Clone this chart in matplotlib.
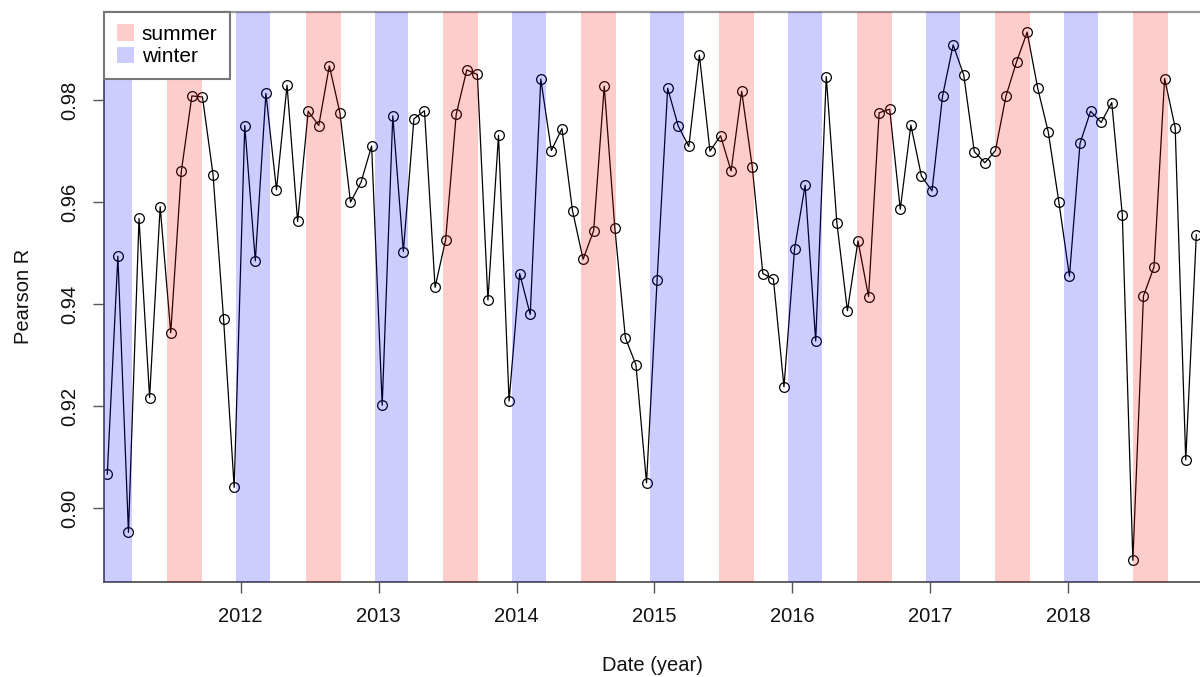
import numpy as np
import pandas as pd
import matplotlib
matplotlib.use("Agg")
import matplotlib.pyplot as plt
import matplotlib.dates as mdates
from matplotlib.patches import Patch

plt.rcParams["font.family"] = ["Liberation Sans", "DejaVu Sans"]

# Pearson R, one value every 28 days starting 2011-01-13
first_date = "2011-01-13"
step = "28D"
pearson_r = [
    0.9067, 0.9494, 0.8953, 0.9568, 0.9217, 0.9591, 0.9344, 0.9660, 0.9808, 0.9806,
    0.9654, 0.9370, 0.9041, 0.9750, 0.9485, 0.9813, 0.9624, 0.9829, 0.9562, 0.9778,
    0.9750, 0.9867, 0.9775, 0.9600, 0.9639, 0.9710, 0.9202, 0.9769, 0.9503, 0.9763,
    0.9779, 0.9433, 0.9526, 0.9772, 0.9859, 0.9850, 0.9408, 0.9731, 0.9210, 0.9460,
    0.9380, 0.9841, 0.9701, 0.9744, 0.9583, 0.9488, 0.9544, 0.9827, 0.9550, 0.9334,
    0.9281, 0.9050, 0.9447, 0.9823, 0.9749, 0.9709, 0.9888, 0.9700, 0.9730, 0.9661,
    0.9817, 0.9669, 0.9460, 0.9449, 0.9238, 0.9508, 0.9633, 0.9328, 0.9846, 0.9560,
    0.9387, 0.9524, 0.9415, 0.9775, 0.9782, 0.9586, 0.9751, 0.9651, 0.9622, 0.9808,
    0.9908, 0.9849, 0.9699, 0.9677, 0.9701, 0.9808, 0.9875, 0.9933, 0.9823, 0.9737,
    0.9600, 0.9455, 0.9715, 0.9778, 0.9756, 0.9795, 0.9575, 0.8898, 0.9416, 0.9473,
    0.9842, 0.9746, 0.9095, 0.9536,
]

# seasons (solstice -> equinox)
summer_start = ["2011-06-21", "2012-06-21", "2013-06-21", "2014-06-21",
                "2015-06-21", "2016-06-21", "2017-06-21", "2018-06-21"]
summer_end = ["2011-09-22", "2012-09-22", "2013-09-22", "2014-09-22",
              "2015-09-22", "2016-09-22", "2017-09-22", "2018-09-22"]
winter_start = ["2010-12-21", "2011-12-21", "2012-12-21", "2013-12-21",
                "2014-12-21", "2015-12-21", "2016-12-21", "2017-12-21"]
winter_end = ["2011-03-20", "2012-03-20", "2013-03-20", "2014-03-20",
              "2015-03-20", "2016-03-20", "2017-03-20", "2018-03-20"]

year_ticks = [2012, 2013, 2014, 2015, 2016, 2017, 2018]
y_ticks = [0.90, 0.92, 0.94, 0.96, 0.98]

dates = pd.date_range(first_date, periods=len(pearson_r), freq=step)

fig = plt.figure(figsize=(12, 6.77), dpi=100)
ax = fig.add_axes([0.0869, 0.1408, 0.9131, 0.8422])

ax.plot(dates, pearson_r, "-", color="black", lw=0.9, zorder=2)
ax.plot(dates, pearson_r, "o", mfc="none", mec="black", mew=0.9, ms=7, zorder=2)

# bands drawn on top with transparency, like R's rect() after lines
for s, e in zip(summer_start, summer_end):
    ax.axvspan(pd.Timestamp(s), pd.Timestamp(e), color=(1, 0, 0, 0.2), lw=0, zorder=3)
for s, e in zip(winter_start, winter_end):
    ax.axvspan(pd.Timestamp(s), pd.Timestamp(e), color=(0, 0, 1, 0.2), lw=0, zorder=3)

ax.set_xlim(pd.Timestamp("2011-01-05"), pd.Timestamp("2018-12-15 18:00"))
ax.set_ylim(0.88563, 0.99734)

ax.set_xticks([pd.Timestamp(f"{y}-01-01") for y in year_ticks])
ax.xaxis.set_major_formatter(mdates.DateFormatter("%Y"))
ax.set_yticks(y_ticks)
ax.set_yticklabels([f"{v:.2f}" for v in y_ticks], rotation=90, va="center")

ax.tick_params(axis="both", direction="out", length=8, width=1, color="#555555",
               labelsize=14.5, labelcolor="#111111", pad=10)

for side in ["left", "bottom"]:
    ax.spines[side].set_color("#555555")
    ax.spines[side].set_linewidth(1.3)
ax.spines["top"].set_color("#999999")
ax.spines["top"].set_linewidth(1.6)
ax.spines["right"].set_visible(False)

ax.set_xlabel("Date (year)", fontsize=14.5, color="#111111", labelpad=22)
ax.set_ylabel("Pearson R", fontsize=14.5, color="#111111", labelpad=20)

handles = [Patch(facecolor="#FFCCCC", edgecolor="none", label="summer"),
           Patch(facecolor="#CCCCFF", edgecolor="none", label="winter")]
leg = ax.legend(handles=handles, loc="upper left", bbox_to_anchor=(0, 1),
                borderaxespad=0, fontsize=15, handlelength=0.85, handleheight=0.85,
                handletextpad=0.35, labelspacing=0.15, borderpad=0.6,
                fancybox=False, framealpha=1)
leg.get_frame().set_edgecolor("#777777")
leg.get_frame().set_linewidth(1.5)
leg.set_zorder(5)

fig.savefig("out.png", dpi=100)
